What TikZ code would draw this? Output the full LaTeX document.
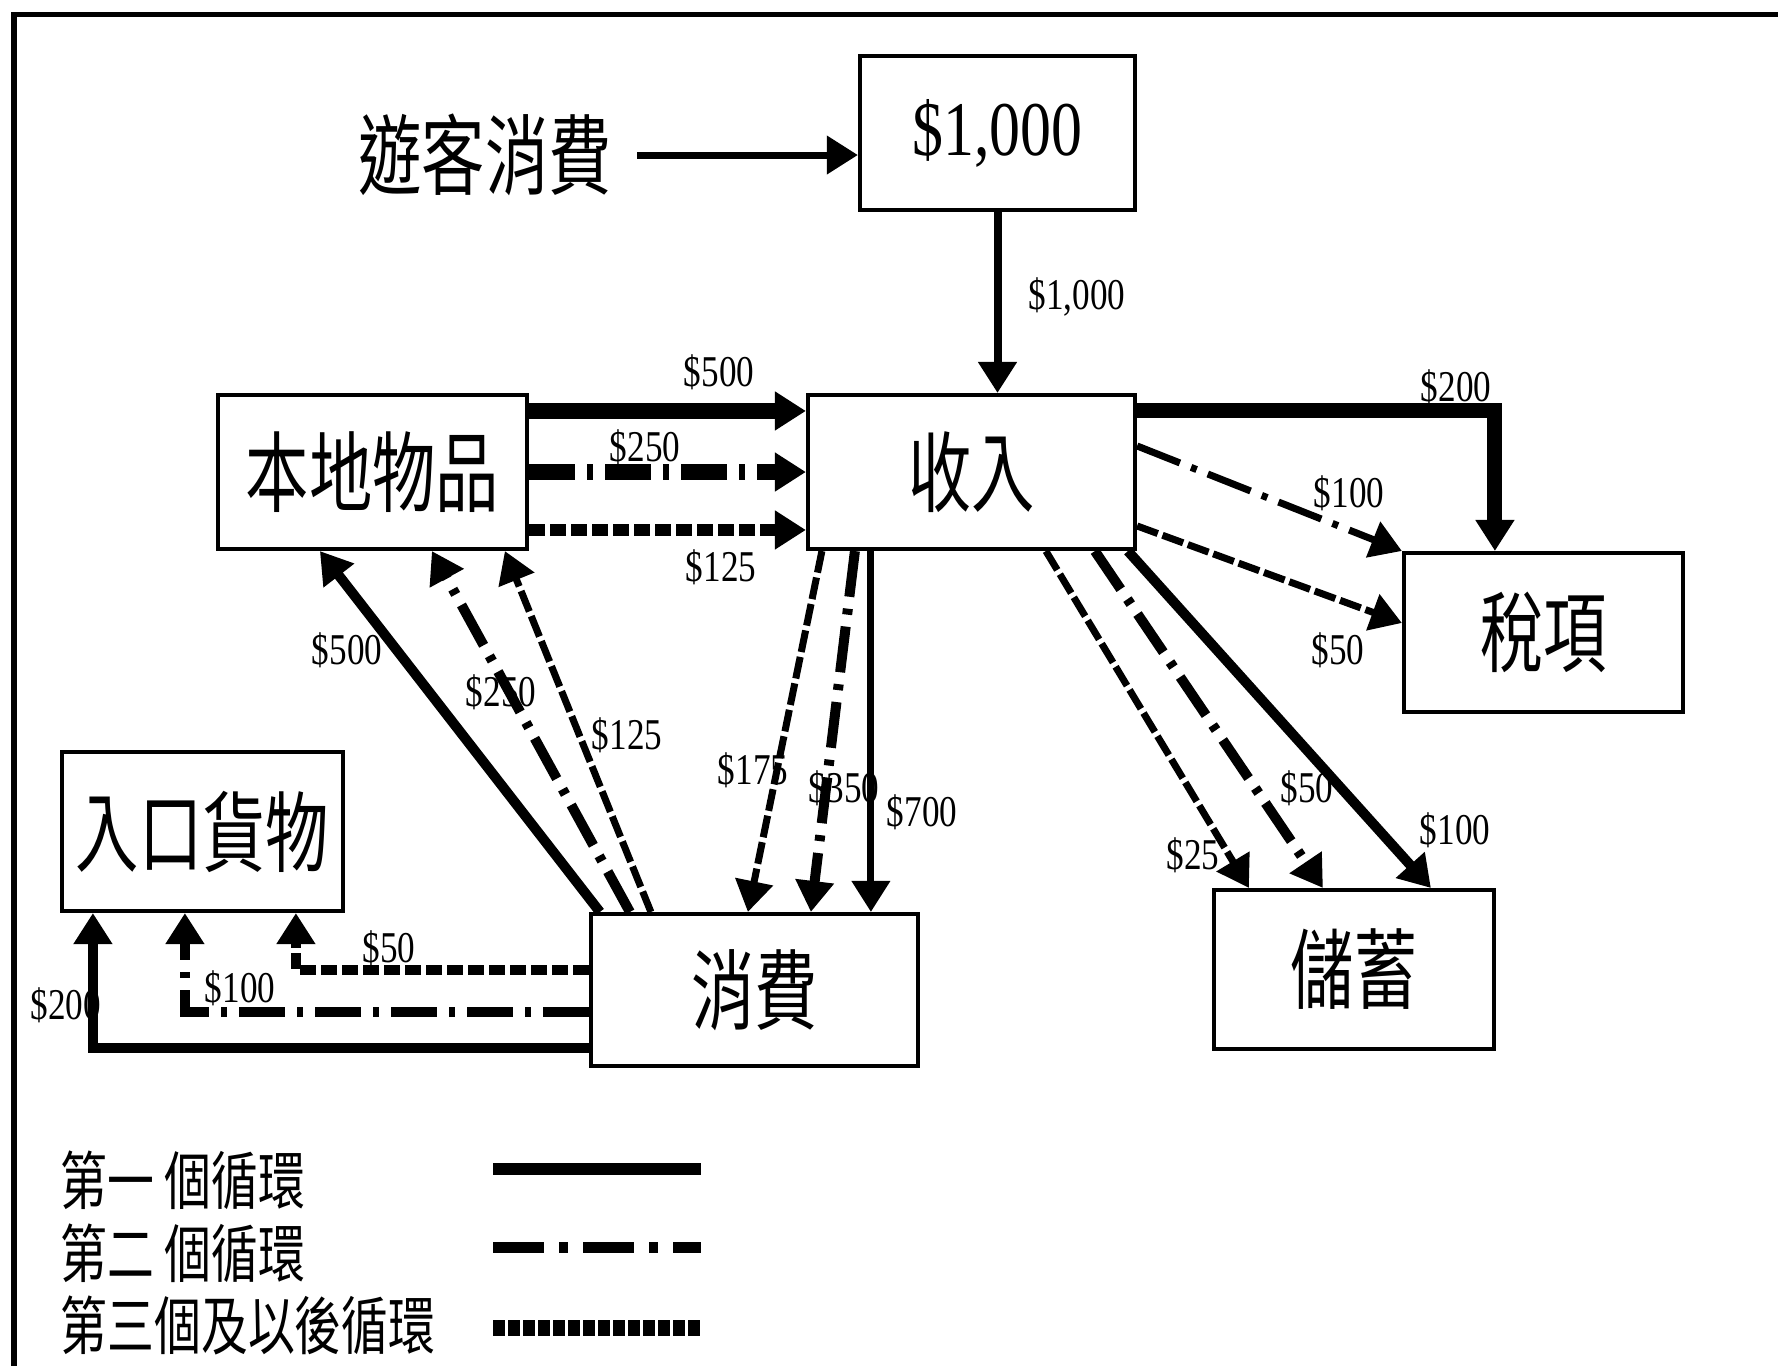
\documentclass[tikz,border=0pt]{standalone}
\usepackage{graphicx}
\usepackage{fontspec}
\setmainfont{Liberation Serif}
\newfontfamily\cjk{Noto Sans CJK TC}
\usetikzlibrary{arrows.meta,calc}
\newcommand\lb[1]{\scalebox{0.8}[1]{#1}}
\newcommand\cjkbox[1]{\scalebox{0.72}[1]{\cjk\fontsize{25}{26}\selectfont #1}}
\newcommand\bigtxt[1]{\scalebox{0.8}[1]{\fontsize{22}{23}\selectfont #1}}
\newcommand\legtxt[1]{\scalebox{0.74}[1]{\cjk\fontsize{18}{19}\selectfont #1}}
\begin{document}
\begin{tikzpicture}[x=0.01cm,y=-0.01cm,
  box/.style={draw,line width=0.045cm,inner sep=0pt},
  lab/.style={font=\fontsize{12.5}{13}\selectfont,inner sep=0pt},
  arr/.style={-{Triangle[width=0.37cm,length=0.31cm]}},
  c1/.style={line width=0.10cm},
  c2/.style={line width=0.10cm,dash pattern=on 0.46cm off 0.12cm on 0.06cm off 0.12cm},
  c3/.style={line width=0.07cm,dash pattern=on 0.22cm off 0.05cm}]
\useasboundingbox (0,0) rectangle (1778,1365);
\clip (0,0) rectangle (1778,1365);
% frame
\draw[line width=0.05cm] (14,1420) -- (14,14.5) -- (1820,14.5);
% boxes
\node[box,minimum width=2.745cm,minimum height=1.535cm] (top) at (997.5,133) {\bigtxt{\$1,000}};
\node[box,minimum width=3.265cm,minimum height=1.535cm] (inc) at (971.5,472) {\cjkbox{收入}};
\node[box,minimum width=3.085cm,minimum height=1.535cm] (loc) at (372.5,472) {\cjkbox{本地物品}};
\node[box,minimum width=2.785cm,minimum height=1.585cm] (tax) at (1543.5,632.5) {\cjkbox{稅項}};
\node[box,minimum width=2.805cm,minimum height=1.585cm] (imp) at (202.5,831.5) {\cjkbox{入口貨物}};
\node[box,minimum width=3.265cm,minimum height=1.515cm] (con) at (754.5,990) {\cjkbox{消費}};
\node[box,minimum width=2.795cm,minimum height=1.585cm] (sav) at (1354,969.5) {\cjkbox{儲蓄}};
\node[inner sep=0pt] (vis) at (485,155) {\cjkbox{遊客消費}};
% visitor -> $1,000
\draw[arr,line width=0.07cm] ($(vis.east)+(25,0)$) -- (vis.east -| top.west);
% $1,000 -> income
\draw[arr,line width=0.08cm] (top.south) -- (top.south |- inc.north);
\node[lab] (l0) at (1077,297) {\lb{\$1,000}};
% local goods -> income
\draw[arr,c1,line width=0.16cm] ($(loc.north east)+(0,18)$) -- ($(inc.north west)+(0,18)$);
\draw[arr,c2,line width=0.16cm] (loc.east) -- (inc.west);
\draw[arr,c3,line width=0.12cm,dash pattern=on 0.16cm off 0.05cm] ($(loc.north east)+(0,137)$) -- ($(inc.north west)+(0,137)$);
\node[lab] (l1) at (719,372) {\lb{\$500}};
\node[lab] (l2) at (645,447) {\lb{\$250}};
\node[lab] (l3) at (721,567) {\lb{\$125}};
% income -> tax
\draw[arr,c1,line width=0.15cm] ($(inc.north east)+(0,18)$) -| ($(tax.north west)+(93,0)$);
\draw[arr,c2,line width=0.07cm] ($(inc.north east)+(0,53)$) -- (tax.north west);
\draw[arr,c3] ($(inc.north east)+(0,133)$) -- ($(tax.north west)+(0,72)$);
\node[lab] (l4) at (1456,387) {\lb{\$200}};
\node[lab] (l5) at (1349,493) {\lb{\$100}};
\node[lab] (l6) at (1338,650) {\lb{\$50}};
% income -> savings
\draw[arr,c3] ($(inc.south west)+(240,0)$) -- ($(sav.north west)+(37,0)$);
\draw[arr,c2] ($(inc.south west)+(289,0)$) -- ($(sav.north west)+(111,0)$);
\draw[arr,c1] ($(inc.south west)+(322,0)$) -- ($(sav.north west)+(219,0)$);
\node[lab] (l7) at (1193,855) {\lb{\$25}};
\node[lab] (l8) at (1307,788) {\lb{\$50}};
\node[lab] (l9) at (1455,830) {\lb{\$100}};
% income -> consumption
\draw[arr,c3] ($(inc.south west)+(16,0)$) -- ($(con.north west)+(159,0)$);
\draw[arr,c2] ($(inc.south west)+(49,0)$) -- ($(con.north west)+(222,0)$);
\draw[arr,c1,line width=0.07cm] ($(inc.south west)+(65,0)$) -- ($(con.north west)+(282,0)$);
\node[lab] (l10) at (753,770) {\lb{\$175}};
\node[lab] (l11) at (844,788) {\lb{\$350}};
\node[lab] (l12) at (922,812) {\lb{\$700}};
% consumption -> local goods
\draw[arr,c1] ($(con.north west)+(11,0)$) -- ($(loc.south west)+(104,0)$);
\draw[arr,c2] ($(con.north west)+(41,0)$) -- ($(loc.south west)+(216,0)$);
\draw[arr,c3] ($(con.north west)+(62,0)$) -- ($(loc.south west)+(289,0)$);
\node[lab] (l13) at (347,650) {\lb{\$500}};
\node[lab] (l14) at (501,692) {\lb{\$250}};
\node[lab] (l15) at (627,735) {\lb{\$125}};
% consumption -> imports
\draw[arr,c1] ($(con.north west)+(0,136)$) -| ($(imp.south west)+(33,0)$);
\draw[arr,c2] ($(con.north west)+(0,100)$) -| ($(imp.south west)+(125,0)$);
\draw[arr,c3,line width=0.1cm,dash pattern=on 0.16cm off 0.05cm] ($(con.north west)+(0,58)$) -| ($(imp.south west)+(236,0)$);
\node[lab] (l16) at (66,1005) {\lb{\$200}};
\node[lab] (l17) at (240,988) {\lb{\$100}};
\node[lab] (l18) at (389,948) {\lb{\$50}};
% legend
\node[inner sep=0pt,anchor=west] (g1) at (60,1180) {\legtxt{第一 個循環}};
\node[inner sep=0pt,anchor=west] (g2) at (60,1253) {\legtxt{第二 個循環}};
\node[inner sep=0pt,anchor=west] (g3) at (60,1325) {\legtxt{第三個及以後循環}};
\coordinate (g1a) at (493,1169); \coordinate (g1b) at (701,1169);
\coordinate (g2a) at (493,1247); \coordinate (g2b) at (701,1247);
\coordinate (g3a) at (493,1328); \coordinate (g3b) at (701,1328);
\draw[c1,line width=0.12cm] (g1a) -- (g1b);
\draw[line width=0.11cm,dash pattern=on 0.51cm off 0.15cm on 0.09cm off 0.15cm] (g2a) -- (g2b);
\draw[line width=0.16cm,dash pattern=on 0.12cm off 0.03cm] (g3a) -- (g3b);
\end{tikzpicture}
\end{document}
